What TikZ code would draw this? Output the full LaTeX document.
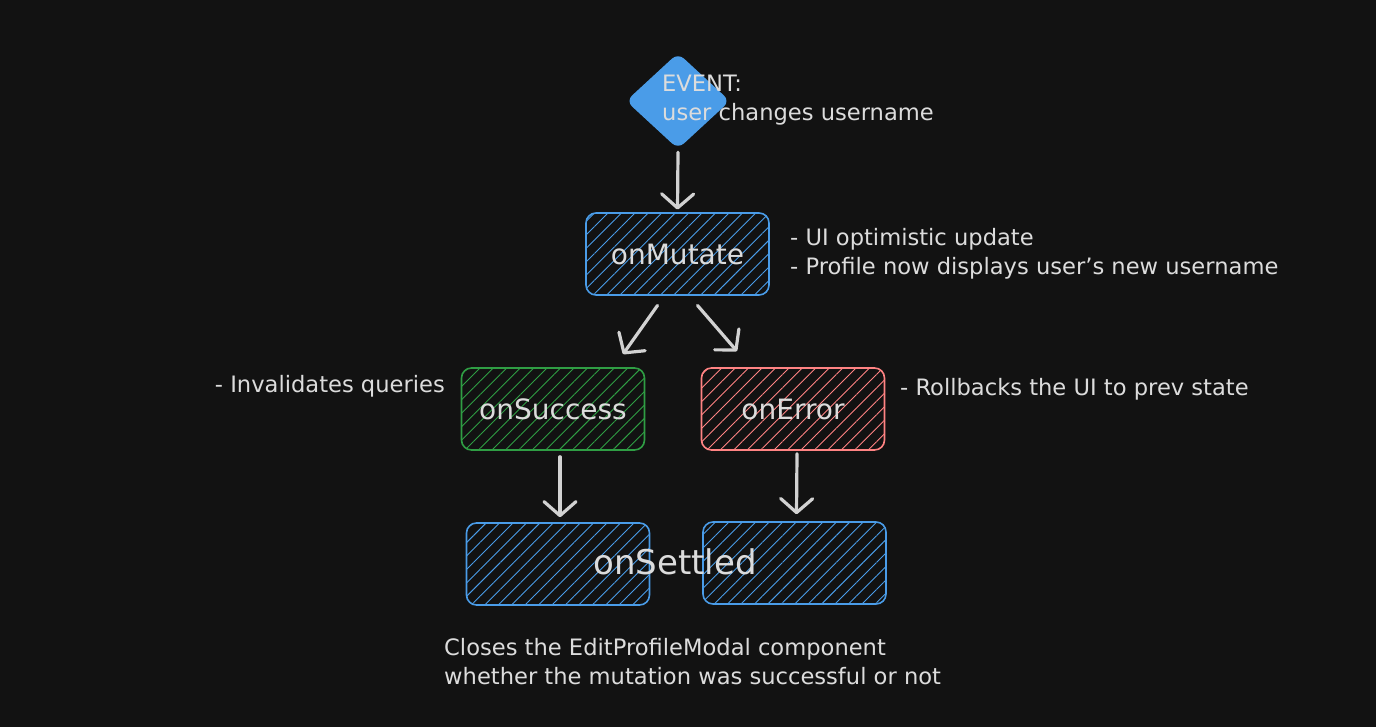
\documentclass[tikz,border=0pt]{standalone}
\usepackage{fontspec}
\setmainfont{DejaVu Sans}
\usetikzlibrary{shapes.geometric,arrows.meta,patterns.meta,calc}
\definecolor{bg}{HTML}{121212}
\definecolor{ink}{HTML}{DCDCDC}
\definecolor{blu}{HTML}{4A9CE8}
\definecolor{grn}{HTML}{2F9E44}
\definecolor{rd}{HTML}{FF8383}
\definecolor{arr}{HTML}{D2D2D2}
\begin{document}
\begin{tikzpicture}[x=1pt,y=-1pt]
	\tikzset{box/.style = {draw=#1, line width=1.6pt, rounded corners=10pt, minimum width=183pt, minimum height=82pt, pattern={Lines[angle=45,distance=9.5pt,line width=0.9pt]}, pattern color=#1, text=ink, font=\fontsize{28}{32}\selectfont}}
	\tikzset{flow/.style = {draw=arr, line width=3.2pt, line cap=round, -{Straight Barb[length=14pt,width=32pt,line width=3.2pt,round]}}}
	\tikzset{note/.style = {text=ink, font=\fontsize{22.6}{29}\selectfont, align=left, inner sep=0pt}}
	\fill[bg] (0,0) rectangle (1376,727);
	% start event
	\node[diamond, fill=blu, rounded corners=8pt, minimum width=104pt, minimum height=96pt, inner sep=0pt] (event) at (678,101) {};
	\node[note, anchor=west] (evtxt) at (662,100) {EVENT:\\user changes username};
	% hooks
	\node[box=blu] (mutate) at (677.5,254) {onMutate};
	\node[box=grn] (success) at (553,409) {onSuccess};
	\node[box=rd] (error) at (793,409) {onError};
	\node[box=blu] (settleL) at (558,564) {};
	\node[box=blu] (settleR) at (794.5,563) {};
	\node[text=ink, font=\fontsize{34}{38}\selectfont] (settled) at (675,562) {onSettled};
	% notes
	\node[note, anchor=west] (mutnote) at (790,254) {- UI optimistic update\\- Profile now displays user's new username};
	\node[note, anchor=east] (sucnote) at (445,386) {- Invalidates queries};
	\node[note, anchor=west] (errnote) at (900,389) {- Rollbacks the UI to prev state};
	\node[note, anchor=west] (setnote) at (444,662) {Closes the EditProfileModal component\\whether the mutation was successful or not};
	% arrows
	\draw[flow] ($(event.south)+(0,3)$) -- ($(mutate.north)+(0,-3)$);
	\draw[flow] ($(mutate.south)+(-20,10)$) -- ($(success.north)+(70,-13)$);
	\draw[flow] ($(mutate.south)+(20,10)$) -- ($(error.north)+(-56,-16)$);
	\draw[flow] ($(success.south)+(7,6)$) -- ($(settleL.north)+(2,-5)$);
	\draw[flow] ($(error.south)+(4,3)$) -- ($(settleR.north)+(2,-7)$);
\end{tikzpicture}
\end{document}
